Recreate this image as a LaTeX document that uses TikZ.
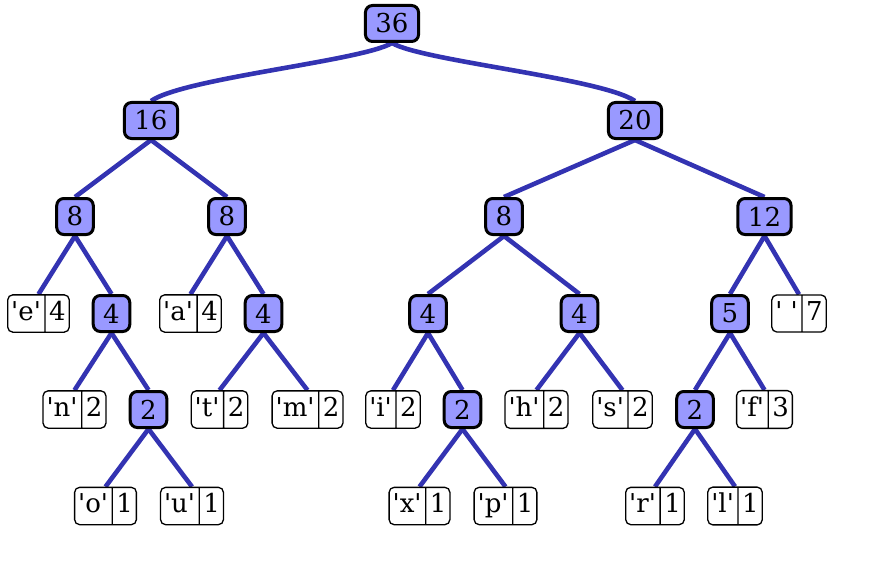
\documentclass[tikz,border=0pt]{standalone}
\usepackage{fontspec}
\newfontfamily\tf{DejaVu Serif}
\usetikzlibrary{shapes.multipart,backgrounds}
\definecolor{edgec}{RGB}{51,51,178}
\definecolor{nfill}{RGB}{153,153,255}
\newcommand\st{\rule[-6pt]{0pt}{25pt}}
\newcommand\lv[2]{\st#1\nodepart{two}\st#2}
\tikzset{
  inode/.style={draw, line width=3pt, fill=nfill, rounded corners=7pt,
    minimum height=36pt, minimum width=35pt, inner xsep=10pt, inner ysep=0pt,
    font=\tf\fontsize{26}{30}\selectfont},
  leaf/.style={draw, line width=1.3pt, fill=white, rectangle split,
    rectangle split horizontal, rectangle split parts=2, rounded corners=5pt,
    inner xsep=3.5pt, inner ysep=6pt, font=\tf\fontsize{26}{30}\selectfont},
  edge/.style={draw=edgec, line width=4.6pt}
}
\begin{document}
\begin{tikzpicture}[x=1pt,y=-1pt]
\useasboundingbox (0,0) rectangle (888,567);
% internal nodes
\node[inode] (root) at (392,23.5) {36};
\node[inode] (n16) at (151,120.5) {16};
\node[inode] (n20) at (635,120.5) {20};
\node[inode] (n8a) at (75,216.5) {8};
\node[inode] (n8b) at (227,216.5) {8};
\node[inode] (n8c) at (504,216.5) {8};
\node[inode] (n12) at (764.5,216.5) {12};
\node[inode] (n4a) at (111.5,313.5) {4};
\node[inode] (n4b) at (263.5,313.5) {4};
\node[inode] (n4c) at (428,313.5) {4};
\node[inode] (n4d) at (579.5,313.5) {4};
\node[inode] (n5) at (730,313.5) {5};
\node[inode] (n2a) at (148.5,409.5) {2};
\node[inode] (n2b) at (462.5,409.5) {2};
\node[inode] (n2c) at (695,409.5) {2};
% leaves
\node[leaf] (le) at (38.5,313.5) {\lv{'e'}{4}};
\node[leaf] (la) at (190.5,313.5) {\lv{'a'}{4}};
\node[leaf] (lsp) at (799,313.5) {\lv{' '}{7}};
\node[leaf] (ln) at (74.5,409.5) {\lv{'n'}{2}};
\node[leaf] (lt) at (219.5,409.5) {\lv{'t'}{2}};
\node[leaf] (lm) at (307.5,409.5) {\lv{'m'}{2}};
\node[leaf] (li) at (393,409.5) {\lv{'i'}{2}};
\node[leaf] (lh) at (536.5,409.5) {\lv{'h'}{2}};
\node[leaf] (ls) at (622.5,409.5) {\lv{'s'}{2}};
\node[leaf] (lf) at (764.5,409.5) {\lv{'f'}{3}};
\node[leaf] (lo) at (105.5,506) {\lv{'o'}{1}};
\node[leaf] (lu) at (192,506) {\lv{'u'}{1}};
\node[leaf] (lx) at (419.5,506) {\lv{'x'}{1}};
\node[leaf] (lp) at (505.5,506) {\lv{'p'}{1}};
\node[leaf] (lr) at (655,506) {\lv{'r'}{1}};
\node[leaf] (ll) at (735,506) {\lv{'l'}{1}};
\begin{scope}[on background layer]
\draw[edge] (root.south) .. controls +(-30,18) and +(33,-23) .. (n16.north);
\draw[edge] (root.south) .. controls +(30,18) and +(-34,-23) .. (n20.north);
\foreach \a/\b in {n16/n8a,n16/n8b,n20/n8c,n20/n12,
  n8a/le,n8a/n4a,n8b/la,n8b/n4b,n8c/n4c,n8c/n4d,n12/n5,n12/lsp,
  n4a/ln,n4a/n2a,n4b/lt,n4b/lm,n4c/li,n4c/n2b,n4d/lh,n4d/ls,n5/n2c,n5/lf,
  n2a/lo,n2a/lu,n2b/lx,n2b/lp,n2c/lr,n2c/ll}
  \draw[edge] (\a.south) -- (\b.north);
\end{scope}
\end{tikzpicture}
\end{document}
